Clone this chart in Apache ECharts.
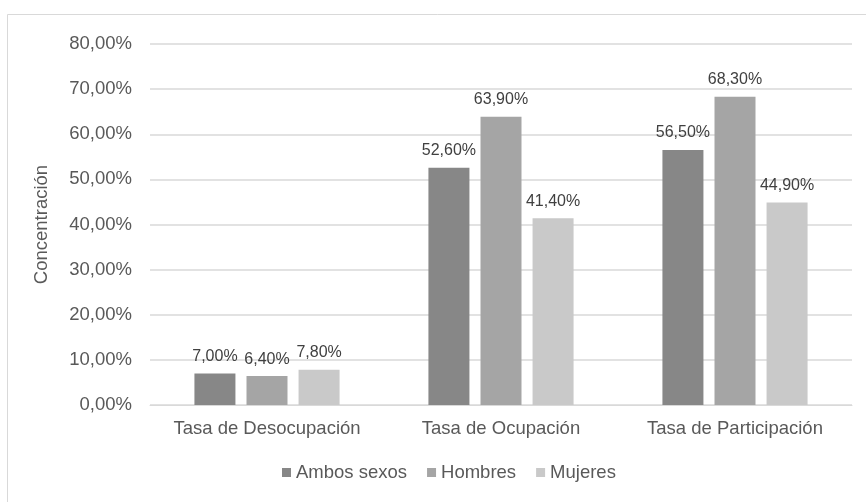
<!DOCTYPE html>
<html>
<head>
<meta charset="utf-8">
<script src="https://cdn.jsdelivr.net/npm/echarts@6/dist/echarts.min.js"></script>
<style>
  html, body { margin: 0; padding: 0; background: #ffffff; }
  #chart { width: 866px; height: 502px; }
</style>
</head>
<body>
<div id="chart"></div>
<script>
// Tasas del mercado laboral por sexo
const categories = ['Tasa de Desocupación', 'Tasa de Ocupación', 'Tasa de Participación'];
const ambosSexos = [7.0, 52.6, 56.5];
const hombres = [6.4, 63.9, 68.3];
const mujeres = [7.8, 41.4, 44.9];
const seriesNames = ['Ambos sexos', 'Hombres', 'Mujeres'];
const yTicks = { min: 0, max: 80, interval: 10 };

const colors = ['#878787', '#a5a5a5', '#c9c9c9'];
const fontFamily = '"Liberation Sans", Arial, sans-serif';

// Formato con coma decimal, p. ej. 52,60%
function pct(v) {
  return Number(v).toFixed(2).replace('.', ',') + '%';
}

const chart = echarts.init(document.getElementById('chart'), null, { renderer: 'canvas' });

function barSeries(name, data, color) {
  return {
    name: name,
    type: 'bar',
    data: data,
    barWidth: 41,
    barGap: '27%',
    itemStyle: { color: color },
    label: {
      show: true,
      position: 'top',
      distance: 9,
      color: '#404040',
      fontFamily: fontFamily,
      fontSize: 16,
      formatter: p => pct(p.value)
    }
  };
}

chart.setOption({
  animation: false,
  backgroundColor: '#ffffff',
  color: colors,
  graphic: [{
    type: 'rect',
    shape: { x: 7.5, y: 14.5, width: 900, height: 600 },
    style: { fill: 'none', stroke: '#d9d9d9', lineWidth: 1 },
    silent: true,
    z: -1
  }],
  grid: { left: 150, right: 14, top: 44, bottom: 97, containLabel: false },
  legend: {
    top: 463,
    left: 282,
    padding: 0,
    itemWidth: 9,
    itemHeight: 9,
    itemGap: 20,
    icon: 'rect',
    textStyle: { color: '#595959', fontSize: 18.5, fontFamily: fontFamily },
    data: seriesNames
  },
  xAxis: {
    type: 'category',
    data: categories,
    axisLine: { lineStyle: { color: '#d9d9d9', width: 1 } },
    axisTick: { show: false },
    axisLabel: { interval: 0, color: '#595959', fontSize: 18.5, fontFamily: fontFamily, margin: 14 }
  },
  yAxis: {
    type: 'value',
    min: yTicks.min,
    max: yTicks.max,
    interval: yTicks.interval,
    name: 'Concentración',
    nameLocation: 'middle',
    nameGap: 99,
    nameRotate: 90,
    nameTextStyle: { color: '#595959', fontSize: 18.5, fontFamily: fontFamily },
    axisLine: { show: false },
    axisTick: { show: false },
    splitLine: { lineStyle: { color: '#d9d9d9', width: 1.5 } },
    axisLabel: { color: '#595959', fontSize: 18.5, fontFamily: fontFamily, margin: 18, formatter: v => pct(v) }
  },
  series: [
    barSeries(seriesNames[0], ambosSexos, colors[0]),
    barSeries(seriesNames[1], hombres, colors[1]),
    barSeries(seriesNames[2], mujeres, colors[2])
  ]
});
</script>
</body>
</html>
